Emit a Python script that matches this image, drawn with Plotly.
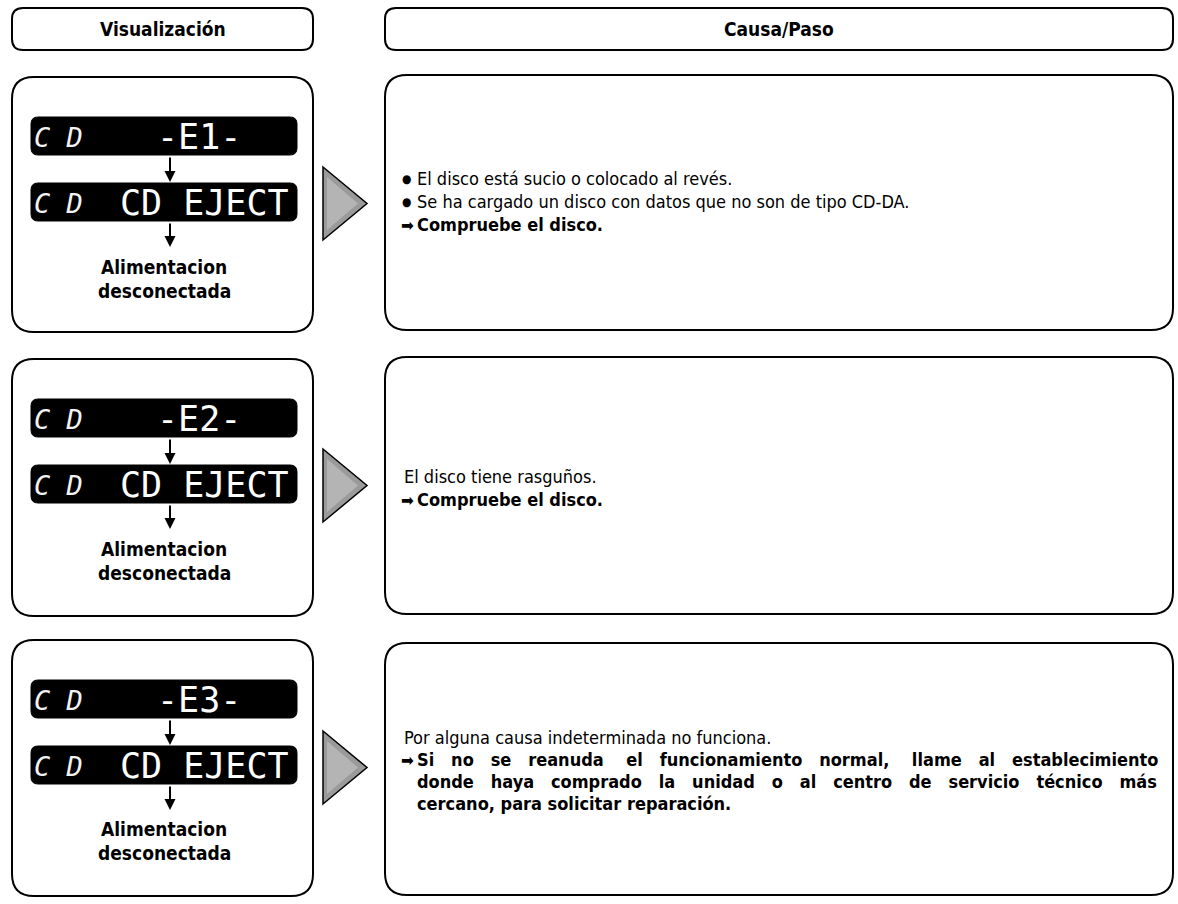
import plotly.graph_objects as go

# ---------------- data ----------------
header_labels = ["Visualización", "Causa/Paso"]
error_codes = ["-E1-", "-E2-", "-E3-"]
eject_text = "CD EJECT"
lcd_icon = "C D"
power_text = ["Alimentacion", "desconectada"]
# line kinds: "bullet" normal text with bullet, "plain" normal text,
# "step" bold text preceded by an arrow, "cont" bold continuation line
cause_kinds = [
    ["bullet", "bullet", "step"],
    ["plain", "step"],
    ["plain", "step", "cont", "cont"],
]
cause_texts = [
    ["El disco está sucio o colocado al revés.",
     "Se ha cargado un disco con datos que no son de tipo CD-DA.",
     "Compruebe el disco."],
    ["El disco tiene rasguños.",
     "Compruebe el disco."],
    ["Por alguna causa indeterminada no funciona.",
     "Si no se reanuda el funcionamiento normal, llame al establecimiento",
     "donde haya comprado la unidad o al centro de servicio técnico más",
     "cercano, para solicitar reparación."],
]
# extra spaces per word gap to imitate the justified paragraph (None = not justified)
justify_gaps = [
    [None, None, None],
    [None, None],
    [None, [2, 2, 2, 3, 2, 2, 3, 2, 2], [2, 2, 2, 2, 2, 2, 2, 2, 2, 2, 2], None],
]

# ---------------- layout geometry (pixels) ----------------
W, H = 1178, 904
LX0, LX1 = 12, 313
RX0, RX1 = 385, 1173
row_left = [(77, 332), (359, 616), (640, 896)]
row_right = [(75, 330), (357, 614), (643, 895)]
lcd1_y = [(117, 155), (399, 437), (680, 718)]
lcd2_y = [(183, 221), (465, 503), (746, 784)]
text_y = [(267, 291), (549, 573), (829, 853)]
tri_y = [(167, 240), (449, 522), (731, 804)]
cause_y = [[178, 201, 224], [476, 499], [737, 759, 781, 803]]

NARROW = "DejaVu Sans Condensed, Liberation Sans Narrow, Arial Narrow, sans-serif"
MONO = "DejaVu Sans Mono, Liberation Mono, monospace"
NBSP = "\u00a0"


def rrect(x0, y0, x1, y1, r):
    return (f"M {x0+r},{y0} L {x1-r},{y0} Q {x1},{y0} {x1},{y0+r} "
            f"L {x1},{y1-r} Q {x1},{y1} {x1-r},{y1} L {x0+r},{y1} "
            f"Q {x0},{y1} {x0},{y1-r} L {x0},{y0+r} Q {x0},{y0} {x0+r},{y0} Z")


def justify(text, gaps):
    if gaps is None:
        return text
    words = text.split(" ")
    out = words[0]
    for k, w in enumerate(words[1:]):
        g = gaps[k] if k < len(gaps) else 0
        out += " " + NBSP * g + w
    return out


shapes = []
annotations = []

# headers
for (x0, x1), lab in zip([(LX0, LX1), (RX0, RX1)], header_labels):
    shapes.append(dict(type="path", path=rrect(x0, 8, x1, 50, 11),
                       line=dict(color="black", width=2), fillcolor="white"))
    annotations.append(dict(x=(x0 + x1) / 2, y=29, text=f"<b>{lab}</b>", showarrow=False,
                            font=dict(family=NARROW, size=19, color="black"),
                            xanchor="center", yanchor="middle"))

for i in range(3):
    ly0, ly1 = row_left[i]
    ry0, ry1 = row_right[i]
    shapes.append(dict(type="path", path=rrect(LX0, ly0, LX1, ly1, 22),
                       line=dict(color="black", width=2), fillcolor="white"))
    shapes.append(dict(type="path", path=rrect(RX0, ry0, RX1, ry1, 22),
                       line=dict(color="black", width=2), fillcolor="white"))
    # LCD panels
    for (y0, y1), main_txt, cx in [(lcd1_y[i], error_codes[i], 199), (lcd2_y[i], eject_text, 204)]:
        shapes.append(dict(type="path", path=rrect(31, y0, 297, y1, 7),
                           line=dict(color="black", width=1), fillcolor="black"))
        yc = (y0 + y1) / 2
        annotations.append(dict(x=58, y=yc + 1, text=f"<i>{lcd_icon}</i>", showarrow=False,
                                font=dict(family=MONO, size=27, color="#f2f2f2"),
                                xanchor="center", yanchor="middle"))
        annotations.append(dict(x=cx, y=yc + 1, text=main_txt, showarrow=False,
                                font=dict(family=MONO, size=35, color="white"),
                                xanchor="center", yanchor="middle"))
    # down arrows
    annotations.append(dict(x=170, y=lcd2_y[i][0] - 1, ax=170, ay=lcd1_y[i][1] + 1,
                            xref="x", yref="y", axref="x", ayref="y", text="",
                            showarrow=True, arrowhead=2, arrowsize=1.1, arrowwidth=2,
                            arrowcolor="black"))
    annotations.append(dict(x=170, y=lcd2_y[i][1] + 26, ax=170, ay=lcd2_y[i][1] + 1,
                            xref="x", yref="y", axref="x", ayref="y", text="",
                            showarrow=True, arrowhead=2, arrowsize=1.1, arrowwidth=2,
                            arrowcolor="black"))
    for t, yy in zip(power_text, text_y[i]):
        annotations.append(dict(x=164, y=yy, text=f"<b>{t}</b>", showarrow=False,
                                font=dict(family=NARROW, size=19, color="black"),
                                xanchor="center", yanchor="middle"))
    # gray triangle pointer
    t0, t1 = tri_y[i]
    tm = (t0 + t1) / 2
    shapes.append(dict(type="path", path=f"M 323,{t0} L 367,{tm} L 323,{t1} Z",
                       line=dict(color="black", width=1.5), fillcolor="#9a9a9a"))
    shapes.append(dict(type="path", path=f"M 327,{t0+10} L 358,{tm} L 327,{t1-10} Z",
                       line=dict(width=0), fillcolor="#b4b4b4"))
    # cause text
    for kind, txt, yy, gaps in zip(cause_kinds[i], cause_texts[i], cause_y[i], justify_gaps[i]):
        body = justify(txt, gaps)
        if kind == "bullet":
            annotations.append(dict(x=406, y=yy + 1, text="●", showarrow=False,
                                    font=dict(family=NARROW, size=12, color="black"),
                                    xanchor="center", yanchor="middle"))
        if kind == "step":
            annotations.append(dict(x=399, y=yy + 1, text="➡", showarrow=False,
                                    font=dict(family=NARROW, size=17, color="black"),
                                    xanchor="left", yanchor="middle"))
        x = 402 if kind == "plain" else 415
        if kind in ("step", "cont"):
            body = f"<b>{body}</b>"
        annotations.append(dict(x=x, y=yy, text=body, showarrow=False,
                                font=dict(family=NARROW, size=18, color="black"),
                                xanchor="left", yanchor="middle"))

fig = go.Figure()
fig.add_trace(go.Scatter(x=[0, W], y=[0, H], mode="markers",
                         marker=dict(opacity=0), hoverinfo="skip", showlegend=False))
fig.update_layout(
    width=W, height=H, margin=dict(l=0, r=0, t=0, b=0),
    paper_bgcolor="white", plot_bgcolor="white",
    xaxis=dict(range=[0, W], visible=False, fixedrange=True),
    yaxis=dict(range=[H, 0], visible=False, fixedrange=True),
    shapes=shapes, annotations=annotations, showlegend=False,
)
fig.write_html("out.html", config={"displayModeBar": False},
               post_script="document.body.style.margin='0';document.body.style.overflow='hidden';")
